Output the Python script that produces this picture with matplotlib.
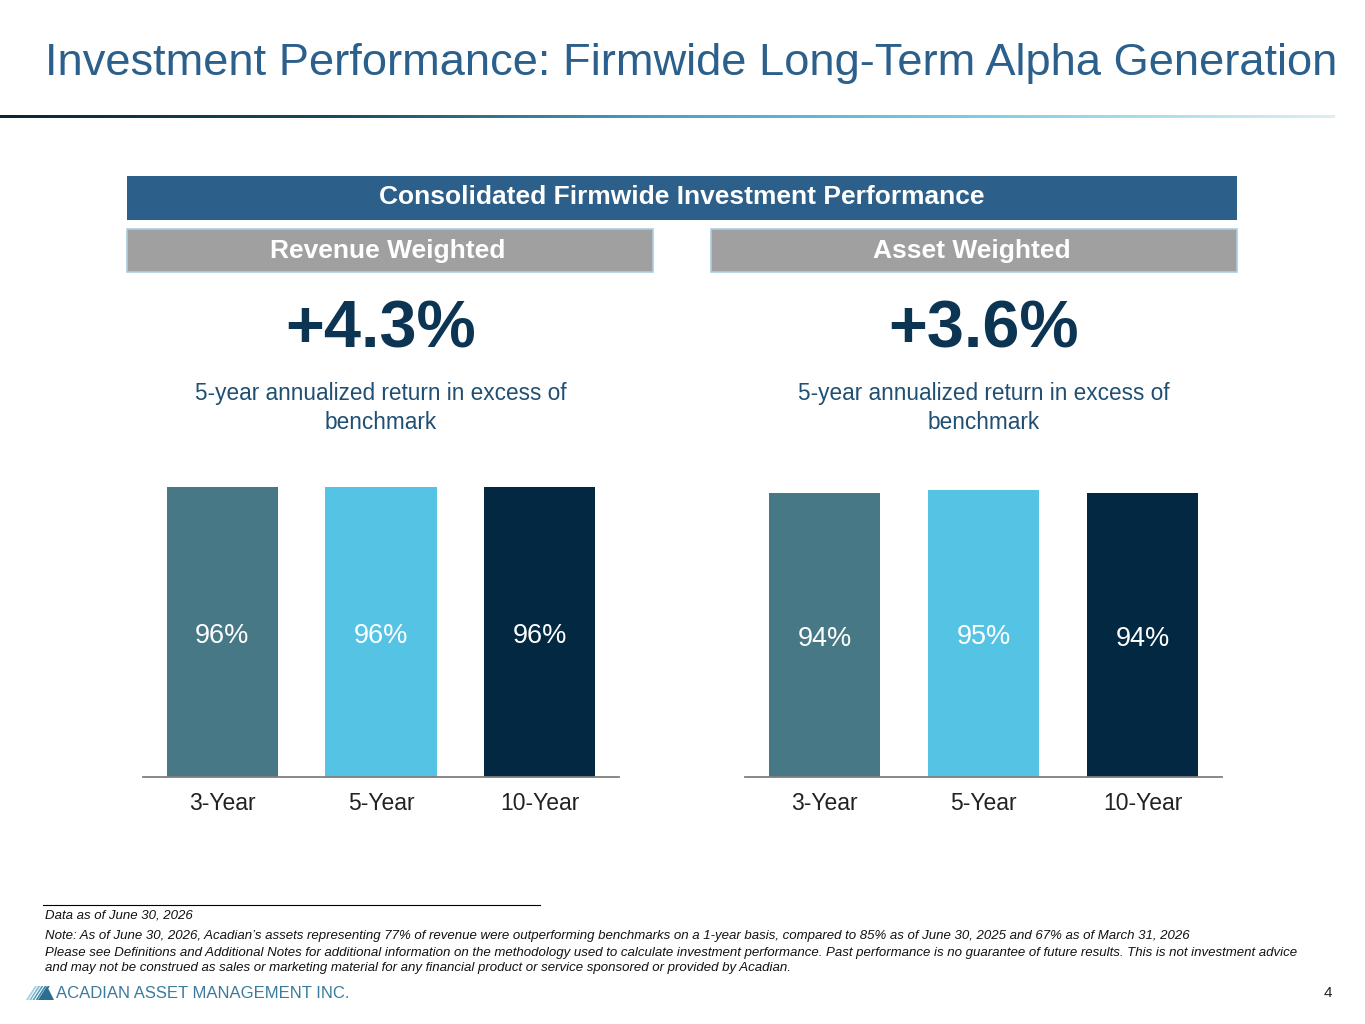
import numpy as np
import matplotlib
matplotlib.use("Agg")
import matplotlib.pyplot as plt
from matplotlib import font_manager as fm
from matplotlib.patches import Rectangle, Polygon

plt.rcParams['font.family'] = ['Liberation Sans', 'DejaVu Sans']

# データ
periods = ['3-Year', '5-Year', '10-Year']
revenue_weighted = [96, 96, 96]
asset_weighted = [94, 95, 94]
headline_values = ['+4.3%', '+3.6%']
panel_titles = ['Revenue Weighted', 'Asset Weighted']
bar_colors = ['#477886', '#55c3e3', '#032841']

W, H = 1365, 1024
fig = plt.figure(figsize=(W / 100, H / 100), dpi=100)


def px(x, y):
    # ピクセル座標 -> figure座標
    return x / W, 1 - y / H


def box(x0, y0, x1, y1, **kw):
    fig.add_artist(Rectangle((x0 / W, 1 - y1 / H), (x1 - x0) / W, (y1 - y0) / H,
                             transform=fig.transFigure, **kw))


# タイトル
fig.text(*px(45, 64), 'Investment Performance: Firmwide Long-Term Alpha Generation',
         fontsize=32.6, color='#2b5f8c', ha='left', va='center')

# グラデーションの線
grad_ax = fig.add_axes([0, 1 - 118 / H, 1335 / W, 3 / H])
grad_ax.axis('off')
cmap = matplotlib.colors.LinearSegmentedColormap.from_list(
    'g', ['#0b2633', '#1a4a5e', '#4aa3c4', '#7fd0e6', '#dceef2'])
grad_ax.imshow(np.linspace(0, 1, 256)[None, :], aspect='auto', cmap=cmap)

# 見出しボックス
box(127, 176, 1237, 220, facecolor='#2c5f8a', edgecolor='none')
fig.text(*px(682, 197), 'Consolidated Firmwide Investment Performance',
         fontsize=19, fontweight='bold', color='white', ha='center', va='center')

panels = [(127, 653), (711, 1237)]
for (x0, x1), t in zip(panels, panel_titles):
    box(x0, 229, x1, 272, facecolor='#a0a0a0', edgecolor='#a9cde0', linewidth=1.2)
    fig.text(*px((x0 + x1) / 2 - 2, 251), t, fontsize=19, fontweight='bold',
             color='white', ha='center', va='center')

# 大きな数字とサブタイトル
for cx, val in zip([381, 984], headline_values):
    fig.text(*px(cx, 331), val, fontsize=48, fontweight='bold', color='#0c3553',
             ha='center', va='center')
    fig.text(*px(cx, 408), '5-year annualized return in excess of\nbenchmark',
             fontsize=16.3, color='#1f4f73', ha='center', va='center', linespacing=1.3)

# 棒グラフ
axes_px = [(143, 619), (745, 1222)]
for (x0, x1), vals in zip(axes_px, [revenue_weighted, asset_weighted]):
    top, bottom = 475, 777
    ax = fig.add_axes([x0 / W, 1 - bottom / H, (x1 - x0) / W, (bottom - top) / H])
    xs = np.arange(len(periods))
    ax.bar(xs, vals, width=0.7, color=bar_colors)
    for x, v in zip(xs, vals):
        ax.text(x, v / 2 - 1.2, f'{v}%', ha='center', va='center', color='white', fontsize=19.5)
    ax.set_xlim(-0.5, 2.5)
    ax.set_ylim(0, 100)
    ax.set_xticks(xs)
    ax.set_xticklabels(periods, fontsize=16.5, color='#222222')
    ax.tick_params(axis='x', length=0, pad=11)
    ax.set_yticks([])
    for s in ['top', 'right', 'left']:
        ax.spines[s].set_visible(False)
    ax.spines['bottom'].set_color('#7f7f7f')
    ax.spines['bottom'].set_linewidth(1.3)

# 脚注
fig.add_artist(plt.Line2D([43 / W, 540 / W], [1 - 905 / H] * 2, color='black',
                          linewidth=0.8, transform=fig.transFigure))
notes = [
    (915, 'Data as of June 30, 2026'),
    (936, 'Note: As of June 30, 2026, Acadian\u2019s assets representing 77% of revenue were outperforming '
          'benchmarks on a 1-year basis, compared to 85% as of June 30, 2025 and 67% as of March 31, 2026'),
    (953, 'Please see Definitions and Additional Notes for additional information on the methodology used to '
          'calculate investment performance. Past performance is no guarantee of future results. This is not '
          'investment advice'),
    (968, 'and may not be construed as sales or marketing material for any financial product or service '
          'sponsored or provided by Acadian.'),
]
for y, t in notes:
    fig.text(*px(45, y), t, fontsize=9.55, style='italic', color='#111111', ha='left', va='center')

# ロゴ
for i, c in enumerate(['#9fcfe0', '#7cb8d0', '#5a9fbd', '#3e86a8', '#2a6e92']):
    xo = 26 + i * 3.2
    pts = [px(xo, 1000), px(xo + 2, 1000), px(xo + 11, 986), px(xo + 9, 986)]
    fig.add_artist(Polygon(pts, closed=True, facecolor=c, edgecolor='none',
                           transform=fig.transFigure))
fig.add_artist(Polygon([px(38, 1000), px(47, 986), px(54, 1000)], closed=True,
                       facecolor='#2a6e92', edgecolor='none', transform=fig.transFigure))

names = {f.name for f in fm.fontManager.ttflist}
if 'Liberation Sans Narrow' in names:
    logo_family, logo_size = ['Liberation Sans Narrow', 'DejaVu Sans'], 14.5
else:
    logo_family, logo_size = ['Liberation Sans', 'DejaVu Sans'], 12
fig.text(*px(56, 993), 'ACADIAN ASSET MANAGEMENT INC.', fontsize=logo_size, color='#3a7a9c',
         ha='left', va='center', family=logo_family)
fig.text(*px(1332, 993), '4', fontsize=11, color='#222222', ha='right', va='center')

fig.savefig('out.png', dpi=100)
